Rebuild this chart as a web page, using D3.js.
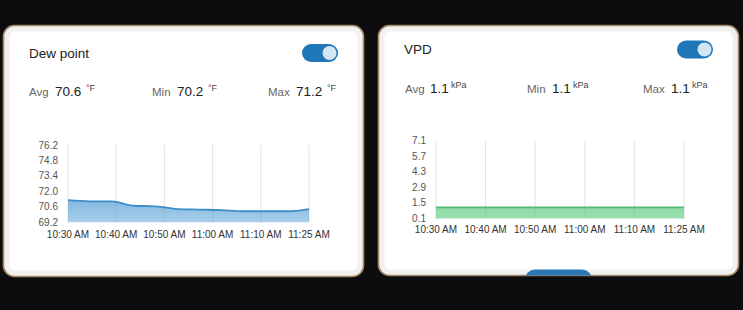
<!DOCTYPE html>
<html>
<head>
<meta charset="utf-8">
<script src="https://cdn.jsdelivr.net/npm/d3@7"></script>
<style>
  html, body { margin: 0; padding: 0; background: #0d0d10; }
  svg { display: block; font-family: "Liberation Sans", Arial, sans-serif; }
</style>
</head>
<body>
<svg id="vis" width="743" height="310"></svg>
<script>
// x axis labels (both cards)
const timeLabels = ['10:30 AM', '10:40 AM', '10:50 AM', '11:00 AM', '11:10 AM', '11:25 AM'];
// readings every 5 minutes, 10:30 -> 11:25
const sampleTimes = ['10:30', '10:35', '10:40', '10:45', '10:50', '10:55', '11:00', '11:05', '11:10', '11:15', '11:20', '11:25'];
const dewValues = [71.2, 71.1, 71.1, 70.7, 70.65, 70.4, 70.35, 70.3, 70.2, 70.2, 70.2, 70.4];
const vpdValues = [1.1, 1.1, 1.1, 1.1, 1.1, 1.1, 1.1, 1.1, 1.1, 1.1, 1.1, 1.1];
const dewTicks = [69.2, 70.6, 72.0, 73.4, 74.8, 76.2];
const vpdTicks = [0.1, 1.5, 2.9, 4.3, 5.7, 7.1];

const svg = d3.select('#vis');
const defs = svg.append('defs');

function grad(id, color, a0, a1) {
    const g = defs.append('linearGradient').attr('id', id)
        .attr('x1', 0).attr('y1', 0).attr('x2', 0).attr('y2', 1);
    g.append('stop').attr('offset', '0%').attr('stop-color', color).attr('stop-opacity', a0);
    g.append('stop').attr('offset', '100%').attr('stop-color', color).attr('stop-opacity', a1);
}
grad('dewFill', '#3f93cf', 0.65, 0.45);
grad('vpdFill', '#4cc46f', 0.62, 0.55);

const cards = [
    { x: 3.5, y: 25.5, w: 360, h: 251, title: 'Dew point', unit: '°F', values: dewValues, ticks: dewTicks,
      plot: { x0: 68, x1: 309, top: 145, bottom: 222.3 }, xLabelY: 237.5, yLabelX: 58,
      titleY: 58, toggle: { x: 302, y: 44 }, statY: 96,
      stat: [{ l: 29, v: 55, u: 86 }, { l: 152, v: 177, u: 208 }, { l: 268, v: 296, u: 327 }],
      line: '#3d8ec9', fill: 'url(#dewFill)', digits: 1 },
    { x: 378.5, y: 25.5, w: 360, h: 250, title: 'VPD', unit: 'kPa', values: vpdValues, ticks: vpdTicks,
      plot: { x0: 436, x1: 684, top: 140.7, bottom: 218.5 }, xLabelY: 233, yLabelX: 426,
      titleY: 54, toggle: { x: 677, y: 40.5 }, statY: 93,
      stat: [{ l: 405, v: 430, u: 451 }, { l: 527, v: 552, u: 573 }, { l: 643, v: 671, u: 692 }],
      line: '#52b970', fill: 'url(#vpdFill)', digits: 1 }
];

cards.forEach((c, ci) => {
    const g = svg.append('g');
    const clipId = 'clip' + ci;
    defs.append('clipPath').attr('id', clipId)
        .append('rect').attr('x', c.x).attr('y', c.y).attr('width', c.w).attr('height', c.h).attr('rx', 11);

    g.append('rect')
        .attr('x', c.x).attr('y', c.y).attr('width', c.w).attr('height', c.h).attr('rx', 11)
        .attr('fill', '#fff');
    // soft grey edge inside the card
    g.append('rect')
        .attr('x', c.x + 3).attr('y', c.y + 3).attr('width', c.w - 6).attr('height', c.h - 6).attr('rx', 9)
        .attr('fill', 'none').attr('stroke', '#f1f1f1').attr('stroke-width', 6)
        .attr('clip-path', `url(#${clipId})`);

    // title and toggle
    g.append('text').attr('x', c.x + 25.5).attr('y', c.titleY)
        .attr('font-size', 13.5).attr('fill', '#222').text(c.title);
    g.append('rect').attr('x', c.toggle.x).attr('y', c.toggle.y).attr('width', 36).attr('height', 18).attr('rx', 9)
        .attr('fill', '#1f77b7');
    g.append('circle').attr('cx', c.toggle.x + 27.5).attr('cy', c.toggle.y + 9).attr('r', 7)
        .attr('fill', '#d3e6f2');

    // stats row
    const fmt = d3.format('.' + c.digits + 'f');
    const stats = [['Avg', d3.mean(c.values)], ['Min', d3.min(c.values)], ['Max', d3.max(c.values)]];
    stats.forEach((s, i) => {
        const p = c.stat[i];
        g.append('text').attr('x', p.l).attr('y', c.statY).attr('font-size', 11.5).attr('fill', '#666').text(s[0]);
        g.append('text').attr('x', p.v).attr('y', c.statY).attr('font-size', 13.5).attr('fill', '#222').text(fmt(s[1]));
        g.append('text').attr('x', p.u).attr('y', c.statY - 5).attr('font-size', 9).attr('fill', '#444').text(c.unit);
    });

    // scales
    const p = c.plot;
    const x = d3.scaleLinear().domain([0, sampleTimes.length - 1]).range([p.x0, p.x1]);
    const xTick = d3.scalePoint().domain(timeLabels).range([p.x0, p.x1]);
    const y = d3.scaleLinear().domain(d3.extent(c.ticks)).range([p.bottom, p.top]);

    // vertical grid
    g.selectAll('.grid').data(timeLabels).join('line')
        .attr('x1', d => xTick(d)).attr('x2', d => xTick(d))
        .attr('y1', p.top).attr('y2', p.bottom)
        .attr('stroke', '#e3e3e3').attr('stroke-width', 1);

    // area + line
    const area = d3.area().x((d, i) => x(i)).y0(p.bottom).y1(d => y(d)).curve(d3.curveMonotoneX);
    const line = d3.line().x((d, i) => x(i)).y(d => y(d)).curve(d3.curveMonotoneX);
    g.append('path').datum(c.values).attr('d', area).attr('fill', c.fill);
    g.append('path').datum(c.values).attr('d', line)
        .attr('fill', 'none').attr('stroke', c.line).attr('stroke-width', 1.8);

    // y labels
    g.selectAll('.yl').data(c.ticks).join('text')
        .attr('x', c.yLabelX).attr('y', d => y(d) + 3.5)
        .attr('text-anchor', 'end').attr('font-size', 10).attr('fill', '#555')
        .text(d => d.toFixed(1));

    // x labels
    g.selectAll('.xl').data(timeLabels).join('text')
        .attr('x', d => xTick(d)).attr('y', c.xLabelY)
        .attr('text-anchor', 'middle').attr('font-size', 10).attr('fill', '#333')
        .text(d => d);

    // card border
    g.append('rect')
        .attr('x', c.x).attr('y', c.y).attr('width', c.w).attr('height', c.h).attr('rx', 11)
        .attr('fill', 'none').attr('stroke', '#a88a68').attr('stroke-width', 1.6);
});

// blue tab peeking from under the right card
svg.append('rect').attr('x', 525).attr('y', 269.5).attr('width', 67).attr('height', 20).attr('rx', 10)
    .attr('fill', '#2a78b6').attr('clip-path', 'url(#clip1)');
</script>
</body>
</html>
